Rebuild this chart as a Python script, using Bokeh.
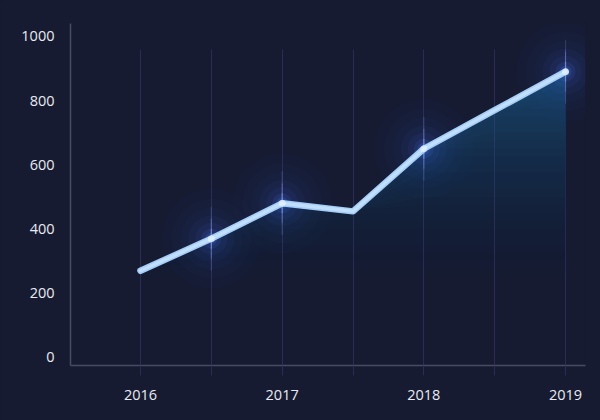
import math
from bokeh.plotting import figure
from bokeh.models import FixedTicker, Range1d
from bokeh.embed import file_html
from bokeh.resources import INLINE

# ---- data ----
years = [2016, 2016.5, 2017, 2017.5, 2018, 2018.5, 2019]
values = [270, 370, 480, 455, 650, 770, 890]
year_labels = {2016.5: "", 2017.5: "", 2018.5: ""}
y_ticks = [0, 200, 400, 600, 800, 1000]
glow_idx = [1, 2, 4, 6]

BG = "#161b31"
GRID = "#2c2b55"
AXIS = "#474b63"
TXT = "#e9eaf2"
FONT = "Open Sans"

p = figure(width=600, height=420, output_backend="svg", toolbar_location=None,
           x_range=Range1d(2015.506, 2019.141), y_range=Range1d(-25, 1040),
           background_fill_color=BG, border_fill_color=BG,
           min_border_left=70, min_border_right=15, min_border_top=23, min_border_bottom=55)
p.outline_line_color = None
p.styles = {"background-color": BG}

# axes
p.xaxis.ticker = FixedTicker(ticks=years)
p.xaxis.major_label_overrides = year_labels
p.yaxis.ticker = FixedTicker(ticks=y_ticks)
for ax in (p.xaxis[0], p.yaxis[0]):
    ax.axis_line_color = AXIS
    ax.axis_line_width = 1.5
    ax.minor_tick_line_color = None
    ax.major_label_text_color = TXT
    ax.major_label_text_font = FONT
    ax.major_label_text_font_size = "14.5px"
p.xaxis.major_tick_line_color = GRID
p.xaxis.major_tick_in = 0
p.xaxis.major_tick_out = 10
p.xaxis.major_label_standoff = 14
p.yaxis.major_tick_line_color = None
p.yaxis.major_tick_out = 0
p.yaxis.major_tick_in = 0
p.yaxis.major_label_standoff = 16

p.ygrid.grid_line_color = None
p.xgrid.ticker = FixedTicker(ticks=years)
p.xgrid.grid_line_color = GRID
p.xgrid.grid_line_width = 1
try:
    p.xgrid.cross_bounds = (-25, 960)
except Exception:
    pass

# area fill: vertical gradient in value space (stronger higher up)
levels = list(range(250, 900, 25))
for k, L in enumerate(levels):
    a = 0.008 + 0.052 * k / (len(levels) - 1)
    p.varea(x=years, y1=[min(v, L) for v in values], y2=values,
            fill_color="#2a6a9a", fill_alpha=a)

# glows under line
gx = [years[i] for i in glow_idx]
gy = [values[i] for i in glow_idx]
for sz, a in [(100, 0.02), (80, 0.025), (62, 0.035), (46, 0.05), (32, 0.07), (20, 0.12), (12, 0.2)]:
    p.scatter(gx, gy, size=sz, fill_color="#4673ff", line_color=None, fill_alpha=a)
# vertical flare
for sz, a in [(64, 0.18), (40, 0.25), (20, 0.35)]:
    p.scatter(gx, gy, marker="dash", angle=math.pi / 2, size=sz,
              line_color="#a0b4ff", line_alpha=a, line_width=1.2)

# main line
p.line(years, values, line_color="#a3cdf8", line_width=6.5, line_cap="round", line_join="round")
p.line(years, values, line_color="#eef8ff", line_width=3.5, line_alpha=0.4, line_cap="round", line_join="round")
# bright cores
p.scatter(gx, gy, size=7, fill_color="#f4fbff", line_color=None, fill_alpha=0.55)

open("out.html", "w").write(file_html(p, INLINE))
